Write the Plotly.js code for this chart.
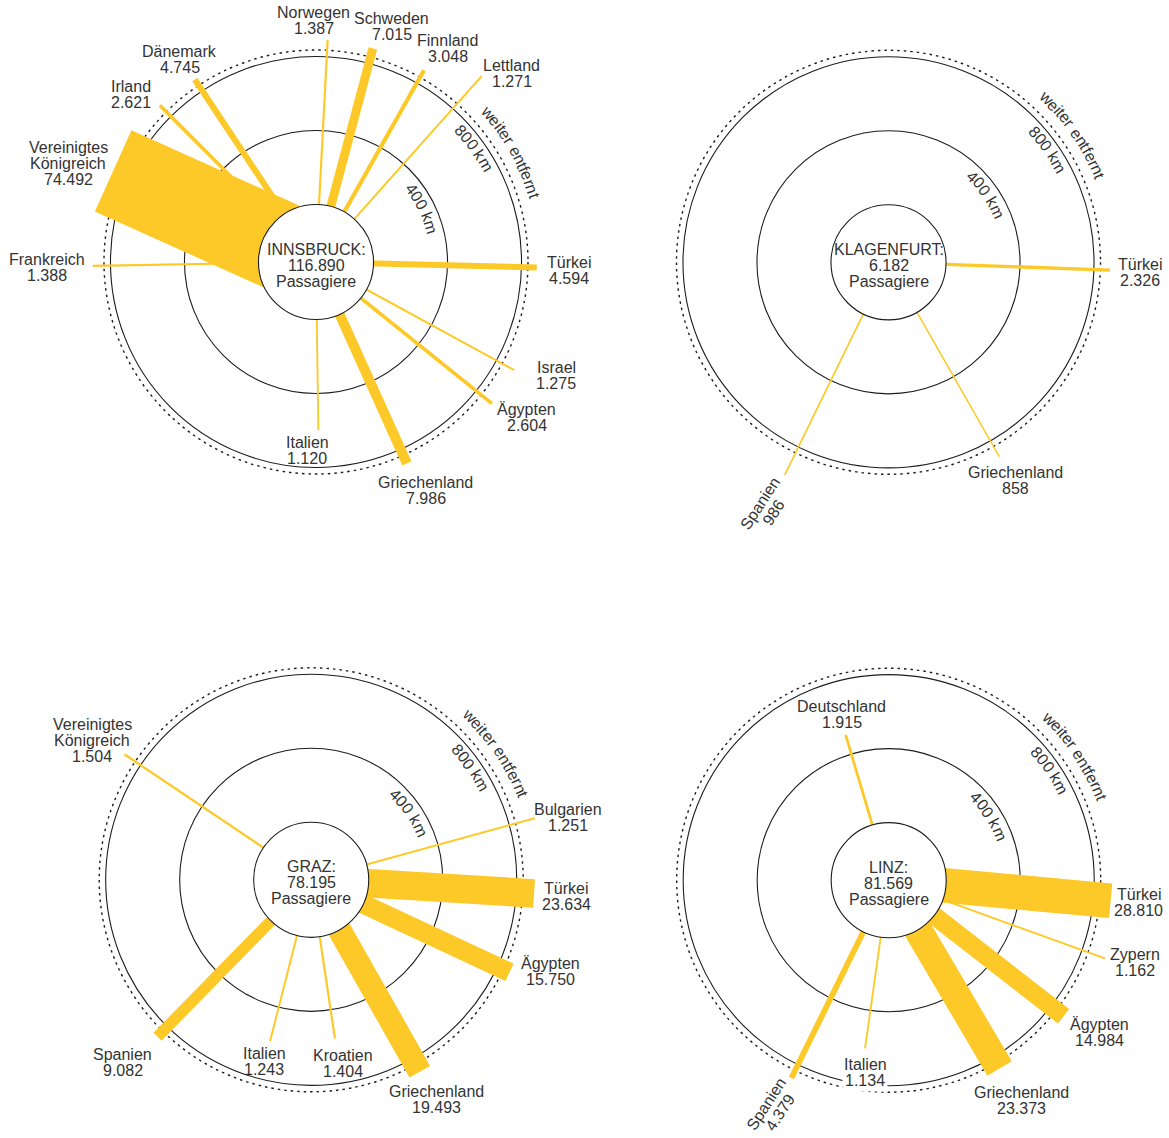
<!DOCTYPE html>
<html>
<head>
<meta charset="utf-8">
<script src="https://cdn.plot.ly/plotly-3.0.1.min.js"></script>
<style>
  html, body { margin: 0; padding: 0; background: #ffffff; }
  #chart { width: 1169px; height: 1138px; }
</style>
</head>
<body>
<div id="chart"></div>
<script>
// ---------------- DATA ----------------
// Innsbruck
const innsbruckTotal = 116890;
const innsbruckDest = ["Norwegen", "Schweden", "Finnland", "Lettland", "Türkei", "Israel", "Ägypten",
  "Griechenland", "Italien", "Frankreich", "Vereinigtes Königreich", "Irland", "Dänemark"];
const innsbruckPax = [1387, 7015, 3048, 1271, 4594, 1275, 2604, 7986, 1120, 1388, 74492, 2621, 4745];
const innsbruckBearing = [3.0, 14.9, 29.4, 41.7, 91.4, 118.6, 128.8, 155.7, 179.2, 269.0, 294.2, 315.1, 326.4];
const innsbruckDistKm = [891, 884, 878, 1035, 883, 910, 908, 883, 597, 896, 891, 884, 873];

// Klagenfurt
const klagenfurtTotal = 6182;
const klagenfurtDest = ["Türkei", "Spanien", "Griechenland"];
const klagenfurtPax = [2326, 986, 858];
const klagenfurtBearing = [92.0, 206.0, 150.3];
const klagenfurtDistKm = [887, 968, 898];

// Graz
const grazTotal = 78195;
const grazDest = ["Vereinigtes Königreich", "Bulgarien", "Türkei", "Ägypten", "Griechenland", "Kroatien", "Italien", "Spanien"];
const grazPax = [1504, 1251, 23634, 15750, 19493, 1404, 1243, 9082];
const grazBearing = [303.9, 74.6, 93.5, 115.0, 150.5, 171.5, 194.3, 224.4];
const grazDistKm = [906, 943, 896, 872, 881, 556, 589, 876];

// Linz
const linzTotal = 81569;
const linzDest = ["Deutschland", "Türkei", "Zypern", "Ägypten", "Griechenland", "Italien", "Spanien"];
const linzPax = [1915, 28810, 1162, 14984, 23373, 1134, 4379];
const linzBearing = [343.5, 95.3, 109.9, 127.9, 149.5, 188.0, 206.2];
const linzDistKm = [508, 894, 932, 887, 870, 607, 881];

const ringKm = [400, 800];
const ringTexts = ["400 km", "800 km", "weiter entfernt"];

// ---------------- LAYOUT / STYLE ----------------
const W = 1169, H = 1138;
const S = 0.185;        // px per km unit
const CORE = 311;       // airport circle radius (km units)
const OUTER_KM = 835;   // dotted "weiter entfernt" ring
const YELLOW = '#fdc928';
const INK = '#333333';
const STROKE = '#1c1c1c';
const FONT = 'Liberation Sans, Arial, Helvetica, sans-serif';
const FS = 16, LH = 16;
const ringLabelKm = [338, 746, 921];

const panels = [
  { name: "INNSBRUCK", total: innsbruckTotal, dest: innsbruckDest, pax: innsbruckPax,
    bearing: innsbruckBearing, dist: innsbruckDistKm, center: [316, 262], xdom: [0, 0.5], ydom: [0.5, 1],
    labelOffset: [[-14,-19],[19,-22],[24,-22],[30,-3],[32,3],[42,5],[35,14],[19,27],[-11,21],[-46,2],[-45,-7],[-29,-11],[-15,-20]],
    labelAngle: {}, boxed: {}, ringLabelBearing: [63.4, 54.3, 60.6] },
  { name: "KLAGENFURT", total: klagenfurtTotal, dest: klagenfurtDest, pax: klagenfurtPax,
    bearing: klagenfurtBearing, dist: klagenfurtDistKm, center: [888.5, 262.3], xdom: [0.5, 1], ydom: [0.5, 1],
    labelOffset: [[30,2],[-18,33],[16,24]],
    labelAngle: {1: -57}, boxed: {}, ringLabelBearing: [55.1, 54.7, 55.3] },
  { name: "GRAZ", total: grazTotal, dest: grazDest, pax: grazPax,
    bearing: grazBearing, dist: grazDistKm, center: [311.2, 879.8], xdom: [0, 0.5], ydom: [0, 0.5],
    labelOffset: [[-32,-14],[33,-1],[32,3],[41,-1],[17,28],[8,25],[-6,20],[-35,26]],
    labelAngle: {}, boxed: {}, ringLabelBearing: [55.5, 54.9, 55.6] },
  { name: "LINZ", total: linzTotal, dest: linzDest, pax: linzPax,
    bearing: linzBearing, dist: linzDistKm, center: [888.7, 880.2], xdom: [0.5, 1], ydom: [0, 0.5],
    labelOffset: [[-4,-20],[28,2],[30,4],[36,16],[22,32],[0,24],[-18,30]],
    labelAngle: {6: -57}, boxed: {5: true}, ringLabelBearing: [57.5, 55.8, 56.3] }
];

// Arial advance widths (per 1000 em) for ring captions
const CW = {'4':556,'0':556,'8':556,' ':278,'k':500,'m':833,'w':722,'e':556,'i':222,'t':278,'r':333,'n':556,'f':278};

function paxWidth(p) { return 0.5 + 0.00119 * p; }
function fmt(n) { return String(n).replace(/\B(?=(\d{3})+(?!\d))/g, '.'); }
const rad = d => d * Math.PI / 180;

const traces = [], shapes = [], annotations = [], boxedAnnotations = [];
const layout = {
  width: W, height: H, margin: {l: 0, r: 0, t: 0, b: 0, pad: 0},
  paper_bgcolor: '#ffffff', plot_bgcolor: 'rgba(0,0,0,0)', showlegend: false,
  font: {family: FONT, size: FS, color: INK}
};

function circle(xa, ya, r, line, fill, layer) {
  return {type: 'circle', xref: xa, yref: ya, x0: -r, x1: r, y0: -r, y1: r,
          line: line, fillcolor: fill, layer: layer};
}

panels.forEach((P, k) => {
  const id = k === 0 ? '' : String(k + 1);
  const xa = 'x' + id, ya = 'y' + id;
  const [cx, cy] = P.center;
  const x0 = P.xdom[0] * W, x1 = P.xdom[1] * W;
  const yt = (1 - P.ydom[1]) * H, yb = (1 - P.ydom[0]) * H;
  layout['xaxis' + id] = {domain: P.xdom, range: [(x0 - cx) / S, (x1 - cx) / S], visible: false, fixedrange: true};
  layout['yaxis' + id] = {domain: P.ydom, range: [(cy - yb) / S, (cy - yt) / S], visible: false, fixedrange: true};

  // distance rings
  ringKm.forEach(d => shapes.push(circle(xa, ya, CORE + d, {color: STROKE, width: 1.1}, 'rgba(0,0,0,0)', 'below')));
  shapes.push(circle(xa, ya, CORE + OUTER_KM, {color: STROKE, width: 1.4, dash: '2.5px,4px'}, 'rgba(0,0,0,0)', 'below'));
  // airport circle
  shapes.push(circle(xa, ya, CORE, {color: STROKE, width: 1.1}, '#ffffff', 'above'));

  // routes
  P.dest.forEach((d, i) => {
    const b = rad(P.bearing[i]);
    const R = CORE + P.dist[i];
    const ex = R * Math.sin(b), ey = R * Math.cos(b);
    traces.push({
      type: 'scatter', mode: 'lines', x: [0, ex], y: [0, ey], xaxis: xa, yaxis: ya,
      line: {color: YELLOW, width: paxWidth(P.pax[i])}, hoverinfo: 'skip', showlegend: false
    });
    const lines = d.split(' ').concat([fmt(P.pax[i])]);
    const [dx, dy] = P.labelOffset[i];
    const rot = P.labelAngle[i] || 0;
    const phi = rad(rot);
    const n = lines.length;
    lines.forEach((t, j) => {
      const o = (j - (n - 1) / 2) * LH;
      const sx = dx - o * Math.sin(phi), sy = dy + o * Math.cos(phi);
      const ann = {xref: xa, yref: ya, x: ex, y: ey, xshift: sx, yshift: -sy, text: t,
        showarrow: false, xanchor: 'center', yanchor: 'middle', textangle: rot,
        font: {family: FONT, size: FS, color: INK}};
      if (P.boxed[i] && j === n - 1) {
        ann.bgcolor = '#ffffff'; ann.borderpad = 2;
        boxedAnnotations.push(ann);
      } else {
        annotations.push(ann);
      }
    });
  });

  // airport caption
  [P.name + ':', fmt(P.total), 'Passagiere'].forEach((t, j) => {
    annotations.push({xref: xa, yref: ya, x: 0, y: 0, yshift: -(3 + (j - 1) * LH), text: t,
      showarrow: false, xanchor: 'center', yanchor: 'middle', font: {family: FONT, size: FS, color: INK}});
  });

  // ring captions, set along the arcs
  ringTexts.forEach((txt, q) => {
    const rpx = (CORE + ringLabelKm[q]) * S;
    const rbase = rpx - 5.7;
    const widths = txt.split('').map(c => (CW[c] || 556) / 1000 * FS);
    const total = widths.reduce((a, b) => a + b, 0);
    let cum = 0;
    txt.split('').forEach((c, ci) => {
      const off = cum + widths[ci] / 2 - total / 2;
      cum += widths[ci];
      if (c === ' ') return;
      const bdeg = P.ringLabelBearing[q] + off / rbase * 180 / Math.PI;
      const R = rpx / S;
      annotations.push({xref: xa, yref: ya, x: R * Math.sin(rad(bdeg)), y: R * Math.cos(rad(bdeg)),
        text: c, showarrow: false, xanchor: 'center', yanchor: 'middle', textangle: bdeg,
        font: {family: FONT, size: FS, color: INK}});
    });
  });
});

layout.shapes = shapes;
layout.annotations = boxedAnnotations.concat(annotations);

Plotly.newPlot('chart', traces, layout, {staticPlot: true, displayModeBar: false, responsive: false});
</script>
</body>
</html>
